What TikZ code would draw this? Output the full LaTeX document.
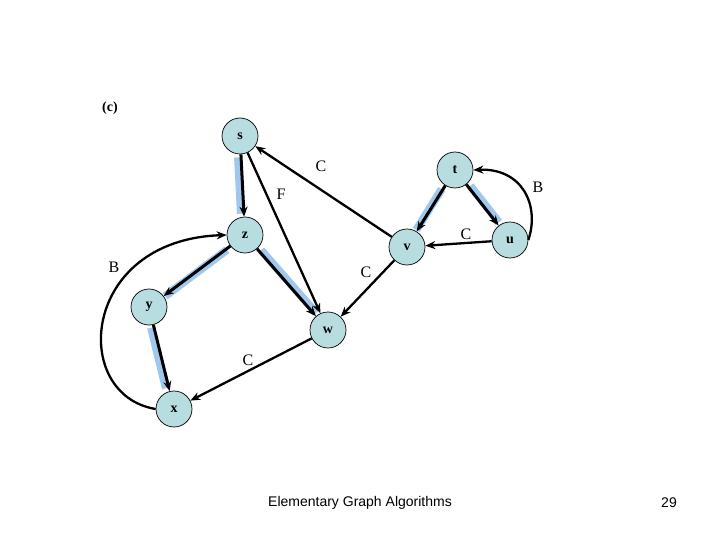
\documentclass[tikz,border=0pt]{standalone}
\usepackage{fontspec}
\setmainfont{Liberation Serif}
\newfontfamily\footfont{Liberation Sans}
\usetikzlibrary{arrows.meta,backgrounds}
\definecolor{NodeTeal}{RGB}{184,221,224}
\definecolor{TreeBlue}{RGB}{160,200,238}

\begin{document}
\begin{tikzpicture}[
      x=1pt,y=-1pt,
      vtx/.style={circle,draw=black,fill=NodeTeal,line width=0.7pt,
                  minimum size=36pt,inner sep=0pt,
                  font=\fontsize{14}{14}\selectfont\bfseries},
      treeHi/.style={TreeBlue,line width=8pt,shorten <=3pt,shorten >=3pt},
      arTree/.style={-{Stealth[length=10pt,width=8pt]},line width=3pt},
      arPlain/.style={-{Stealth[length=10pt,width=8pt]},line width=2.3pt},
      edgeLbl/.style={font=\fontsize{16}{16}\selectfont}
    ]
    \useasboundingbox (0,0) rectangle (720,540);

    % panel tag
    \node(tag)[font=\fontsize{14}{14}\selectfont\bfseries] at (110,108) {(c)};

    % vertices
    \node(s)[vtx] at (240,136) {s};
    \node(t)[vtx] at (455,170) {t};
    \node(z)[vtx] at (245,235) {z};
    \node(v)[vtx] at (407,247) {v};
    \node(u)[vtx] at (510,240) {u};
    \node(y)[vtx] at (149,307) {y};
    \node(w)[vtx] at (328,330) {w};
    \node(x)[vtx] at (174,409) {x};

    % tree edge highlights
    \begin{scope}[on background layer]
      \draw[treeHi,transform canvas={shift={(-3pt,0pt)}}] (s) -- (z);
      \draw[treeHi,transform canvas={shift={(-1pt,-2pt)}}] (z) -- (y);
      \draw[treeHi,transform canvas={shift={(2pt,1pt)}}] (z) -- (w);
      \draw[treeHi,transform canvas={shift={(-3pt,0pt)}}] (y) -- (x);
      \draw[treeHi,transform canvas={shift={(-2pt,-1pt)}}] (t) -- (v);
      \draw[treeHi,transform canvas={shift={(2pt,1pt)}}] (t) -- (u);
    \end{scope}

    % tree edges
    \draw[arTree] (s) -- (z);
    \draw[arTree] (z) -- (y);
    \draw[arTree] (z) -- (w);
    \draw[arTree] (y) -- (x);
    \draw[arTree] (t) -- (v);
    \draw[arTree] (t) -- (u);

    % forward, back and cross edges
    \draw[arPlain] (v) -- (s);
    \node(lblCvs)[edgeLbl] at (321,166) {C};
    \draw[arPlain] (s) -- (w);
    \node(lblF)[edgeLbl] at (281,194) {F};
    \draw[arPlain] (u) -- (v);
    \node(lblCuv)[edgeLbl] at (466,234) {C};
    \draw[arPlain] (v) -- (w);
    \node(lblCvw)[edgeLbl] at (366,272) {C};
    \draw[arPlain] (w) -- (x);
    \node(lblCwx)[edgeLbl] at (248,360) {C};
    \draw[arPlain] (u.east) .. controls (540,205) and (522,168) .. (t.east);
    \node(lblBut)[edgeLbl] at (538,187) {B};
    \draw[arPlain] (x.west) .. controls (70,395) and (80,240) .. (z.west);
    \node(lblBxz)[edgeLbl] at (114,267) {B};

    % footer
    \node(foot)[font=\footfont\fontsize{14}{14}\selectfont] at (360,503) {Elementary Graph Algorithms};
    \node(page)[font=\footfont\fontsize{14}{14}\selectfont] at (669,503) {29};
  \end{tikzpicture}
\end{document}
